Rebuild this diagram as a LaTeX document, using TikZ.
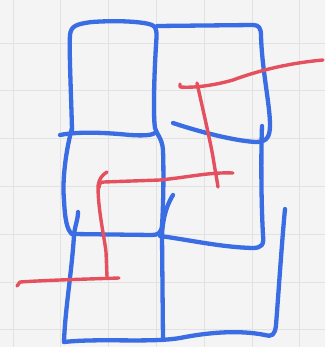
\documentclass[tikz,border=0pt]{standalone}
\usetikzlibrary{calc}
\definecolor{paper}{HTML}{F4F4F4}
\definecolor{gridc}{HTML}{E2E2E2}
\definecolor{pen}{HTML}{3A6CE4}
\definecolor{redpen}{HTML}{E4505E}
\tikzset{
  bluestroke/.style={draw=pen, line width=4.3pt, line cap=round, line join=round},
  redstroke/.style={draw=redpen, line width=3.4pt, line cap=round, line join=round},
  gridline/.style={draw=gridc, line width=0.8pt}
}
\begin{document}
\begin{tikzpicture}[x=1pt,y=-1pt]
\fill[paper] (0,0) rectangle (325,347);
\useasboundingbox (0,0) rectangle (325,347);
% grid
\foreach \i in {0,...,6} {
  \draw[gridline] ({13+47.8*\i},0) -- ({13+47.8*\i},347);
  \draw[gridline] (0,{43+47.8*\i}) -- (325,{43+47.8*\i});
}
% blue strokes
% top-left box: left, top, right side continuing into middle-left box
\draw[bluestroke] (72,130) .. controls (71,90) and (69,50) .. (70,35)
  .. controls (71,26) and (76,24) .. (92,22)
  .. controls (120,20) and (145,22) .. (152,25)
  .. controls (157,27) and (157,32) .. (156,45)
  .. controls (154,80) and (153,115) .. (155,128)
  .. controls (157,135) and (162,138) .. (163,150)
  .. controls (164,180) and (163,210) .. (162,226)
  .. controls (161,233) and (158,235) .. (152,235)
  -- (72,234);
% top-right box: top, right side, bottom
\draw[bluestroke] (157,26) -- (253,25)
  .. controls (259,25) and (261,28) .. (261,36)
  .. controls (262,70) and (270,105) .. (270,125)
  .. controls (270,138) and (266,142) .. (256,142)
  .. controls (235,141) and (200,132) .. (173,123);
% middle-right box: right side and bottom
\draw[bluestroke] (262,126) .. controls (261,150) and (261,200) .. (263,235)
  .. controls (264,245) and (262,248) .. (252,248)
  .. controls (220,247) and (190,240) .. (160,236);
% bottom of top-left box
\draw[bluestroke] (60,135) .. controls (80,131) and (110,133) .. (130,135)
  .. controls (145,136) and (152,135) .. (155,133);
% left side of middle-left box
\draw[bluestroke] (72,128) .. controls (66,150) and (62,180) .. (64,200)
  .. controls (65,220) and (67,230) .. (72,234);
% bottom-left vertical with tick
\draw[bluestroke] (78,212) .. controls (78,220) and (75,225) .. (74,235)
  .. controls (72,270) and (65,310) .. (64,342);
% middle tick and middle vertical
\draw[bluestroke] (173,195) .. controls (168,203) and (163,215) .. (162,235)
  -- (163,340);
% bottom-right side and bottom
\draw[bluestroke] (285,209) .. controls (282,240) and (278,300) .. (276,325)
  .. controls (275,335) and (272,337) .. (265,335)
  .. controls (240,330) and (210,332) .. (180,338)
  .. controls (150,343) and (100,338) .. (64,342);
% red path
\draw[redstroke] (323,60) .. controls (290,63) and (260,70) .. (233,80)
  .. controls (212,86) and (192,88) .. (180,87) -- (180,84);
\draw[redstroke] (197,83) .. controls (203,110) and (210,140) .. (213,157)
  .. controls (215,170) and (217,180) .. (218,187);
\draw[redstroke] (233,173) .. controls (210,172) and (190,177) .. (160,180)
  -- (104,182) .. controls (100,182) and (99,184) .. (99,188);
\draw[redstroke] (107,172) .. controls (102,175) and (99,179) .. (98,186)
  .. controls (98,210) and (104,235) .. (106,252)
  -- (107,277);
\draw[redstroke] (119,278) .. controls (90,279) and (50,280) .. (20,282)
  -- (17,286);
\end{tikzpicture}
\end{document}
